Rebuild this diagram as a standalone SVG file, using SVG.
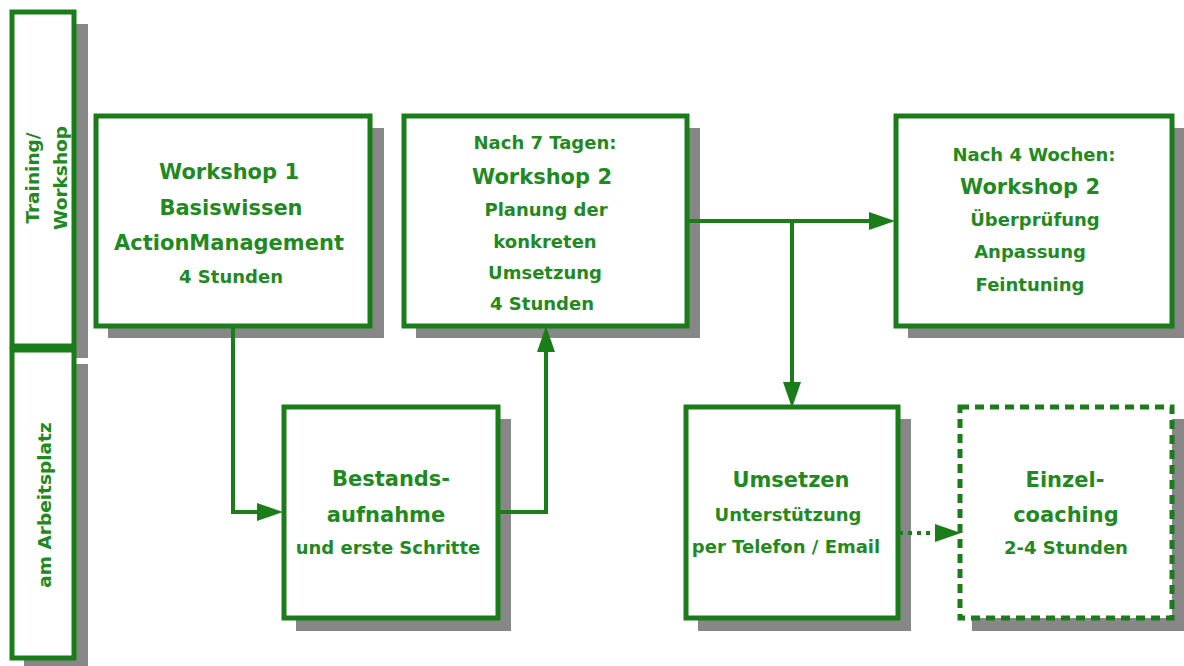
<svg xmlns="http://www.w3.org/2000/svg" width="1184" height="666" viewBox="0 0 1184 666">
<defs>
<style>
.sh{fill:#878787;}
.box{fill:#ffffff;stroke:#1a7d1a;stroke-width:5;}
.dash{stroke-dasharray:9 6;}
.con{fill:none;stroke:#1a7d1a;stroke-width:4;}
.dot{stroke-dasharray:4 5;}
text{font-family:"DejaVu Sans","Liberation Sans",sans-serif;font-weight:bold;fill:#1f8a1f;text-anchor:middle;}
.big{font-size:21px;}
.mid{font-size:18px;}
.sm{font-size:18px;}
.side{font-size:18.5px;}
</style>
<marker id="ah" markerUnits="userSpaceOnUse" markerWidth="26" markerHeight="18" refX="0" refY="9" orient="auto">
<path d="M0,0 L26,9 L0,18 z" fill="#1a7d1a"/>
</marker>
</defs>
<rect width="1184" height="666" fill="#ffffff"/>

<g id="lane-training">
<rect class="sh" x="24" y="24" width="64" height="334"/>
<rect class="box" x="12" y="12" width="62" height="334"/>
<text class="side" transform="translate(39,178) rotate(-90)">Training/</text>
<text class="side" transform="translate(67,178) rotate(-90)">Workshop</text>
</g>
<g id="lane-arbeitsplatz">
<rect class="sh" x="24" y="364" width="64" height="310"/>
<rect class="box" x="12" y="350" width="62" height="308"/>
<text class="side" transform="translate(51,505) rotate(-90)">am Arbeitsplatz</text>
</g>

<g id="shadows">
<rect class="sh" x="108" y="128" width="276" height="210"/>
<rect class="sh" x="416" y="128" width="284" height="210"/>
<rect class="sh" x="908" y="128" width="278" height="210"/>
<rect class="sh" x="296" y="419" width="215" height="212"/>
<rect class="sh" x="698" y="419" width="213" height="212"/>
<rect class="sh" x="972" y="419" width="214" height="212"/>
</g>

<g id="connectors">
<path class="con" d="M233,326 V512 H257" marker-end="url(#ah)"/>
<path class="con" d="M498,512 H546 V352" marker-end="url(#ah)"/>
<path class="con" d="M688,221 H869" marker-end="url(#ah)"/>
<path class="con" d="M792,221 V382" marker-end="url(#ah)"/>
<path class="con dot" d="M899,533 H935" marker-end="url(#ah)"/>
</g>

<g id="n-workshop1">
<rect class="box" x="96" y="116" width="274" height="210"/>
<text class="big" x="229" y="179">Workshop 1</text>
<text class="big" x="231" y="215">Basiswissen</text>
<text class="big" x="229" y="250">ActionManagement</text>
<text class="mid" x="231" y="283">4 Stunden</text>
</g>

<g id="n-workshop2a">
<rect class="box" x="404" y="116" width="283" height="210"/>
<text class="sm" x="545" y="149">Nach 7 Tagen:</text>
<text class="big" x="542" y="184">Workshop 2</text>
<text class="mid" x="546" y="216">Planung der</text>
<text class="mid" x="545" y="248">konkreten</text>
<text class="mid" x="545" y="279">Umsetzung</text>
<text class="mid" x="542" y="310">4 Stunden</text>
</g>

<g id="n-workshop2b">
<rect class="box" x="896" y="116" width="276" height="210"/>
<text class="sm" x="1034" y="161">Nach 4 Wochen:</text>
<text class="big" x="1030" y="194">Workshop 2</text>
<text class="mid" x="1035" y="226">Überprüfung</text>
<text class="mid" x="1030" y="258">Anpassung</text>
<text class="mid" x="1030" y="291">Feintuning</text>
</g>

<g id="n-bestand">
<rect class="box" x="284" y="407" width="214" height="211"/>
<text class="big" x="391" y="486">Bestands-</text>
<text class="big" x="386" y="522">aufnahme</text>
<text class="mid" x="388" y="554">und erste Schritte</text>
</g>

<g id="n-umsetzen">
<rect class="box" x="686" y="407" width="212" height="211"/>
<text class="big" x="791" y="487">Umsetzen</text>
<text class="mid" x="788" y="521">Unterstützung</text>
<text class="mid" x="786" y="553">per Telefon / Email</text>
</g>

<g id="n-einzelcoaching">
<rect class="box dash" x="960" y="407" width="212" height="211"/>
<text class="big" x="1065" y="487">Einzel-</text>
<text class="big" x="1066" y="522">coaching</text>
<text class="mid" x="1066" y="554">2-4 Stunden</text>
</g>
</svg>
